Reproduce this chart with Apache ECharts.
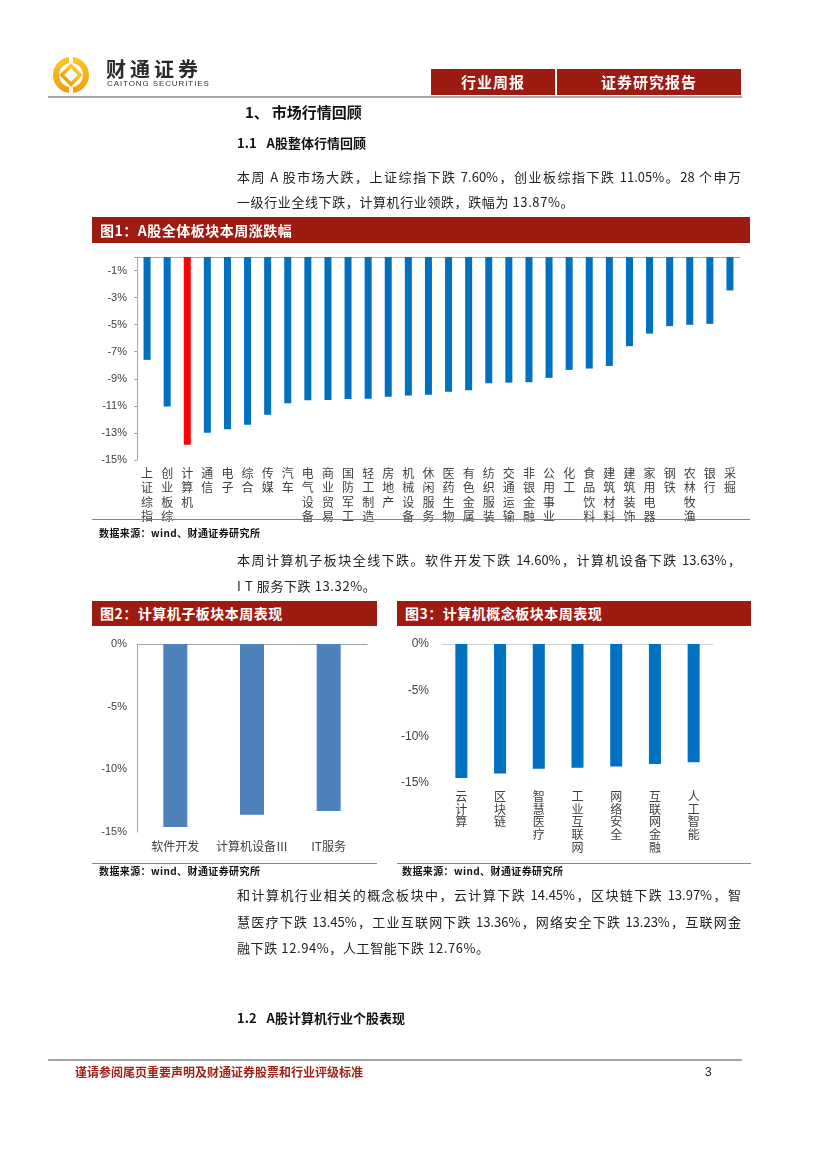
<!DOCTYPE html>
<html><head><meta charset="utf-8">
<script src="https://cdn.jsdelivr.net/npm/echarts@6/dist/echarts.min.js"></script>
<style>
html,body{margin:0;padding:0;background:#fff;}
#page{position:relative;width:827px;height:1169px;overflow:hidden;font-family:"Noto Sans CJK SC","Liberation Sans",sans-serif;color:#222;background:#fff;}
#chart{position:absolute;left:0;top:0;width:827px;height:1169px;}
.t{position:absolute;white-space:nowrap;line-height:20px;}
.p{font-size:13px;color:#222;}
.jl{text-align:justify;text-align-last:justify;width:504px;}
.h{font-weight:700;color:#111;}
.rule{position:absolute;}
.bar{position:absolute;background:#9e1b12;color:#fff;font-weight:700;font-size:14px;letter-spacing:0.5px;box-sizing:border-box;padding-left:8px;}
.src{font-size:10px;font-weight:700;color:#111;letter-spacing:0.4px;}
.hbox{position:absolute;background:#9e1b12;color:#fff;font-weight:700;font-size:15px;text-align:center;line-height:26px;height:26px;top:69px;letter-spacing:1px;}
.gap{display:inline-block;}
</style>
</head><body>
<div id="page">
<div id="chart"></div>

<!-- header -->
<svg style="position:absolute;left:52px;top:55px" width="40" height="40" viewBox="0 0 40 40">
  <defs><linearGradient id="g" x1="0" y1="0" x2="0" y2="1"><stop offset="0" stop-color="#f9c623"/><stop offset="1" stop-color="#f0a011"/></linearGradient></defs>
  <circle cx="19" cy="20" r="15" fill="none" stroke="url(#g)" stroke-width="6"/>
  <rect x="12.5" y="13.5" width="13" height="13" transform="rotate(45 19 20)" fill="none" stroke="url(#g)" stroke-width="3.5"/>
  <rect x="17" y="2" width="4" height="6" fill="#fff"/><rect x="17" y="32" width="4" height="6" fill="#fff"/>
</svg>
<div class="t" style="left:106px;top:58px;font-size:20px;font-weight:700;letter-spacing:4px;color:#2a2a2a;line-height:22px;">财通证券</div>
<div class="t" style="left:107px;top:79px;font-size:8px;letter-spacing:0.9px;color:#333;line-height:10px;font-family:'Liberation Sans',sans-serif;">CAITONG SECURITIES</div>
<div class="hbox" style="left:431px;width:124px;">行业周报</div>
<div class="hbox" style="left:557px;width:184px;">证券研究报告</div>
<div class="rule" style="left:48px;top:96px;width:694px;height:2px;background:#a5a5a5;"></div>

<div class="t h" style="left:245px;top:102px;font-size:15px;">1、<span class="gap" style="width:3px"></span>市场行情回顾</div>
<div class="t h" style="left:237px;top:133px;font-size:13px;">1.1<span class="gap" style="width:10px"></span>A股整体行情回顾</div>
<div class="t p jl" style="left:237px;top:167px;">本周 A 股市场大跌，上证综指下跌 7.60%，创业板综指下跌 11.05%。28 个申万</div>
<div class="t p" style="left:237px;top:192px;letter-spacing:0.6px;">一级行业全线下跌，计算机行业领跌，跌幅为 13.87%。</div>

<div class="bar" style="left:92px;top:217px;width:658px;height:26px;line-height:26px;">图1：A股全体板块本周涨跌幅</div>
<div class="rule" style="left:92px;top:519px;width:658px;height:1px;background:#b9706a;"></div>
<div class="t src" style="left:99px;top:523px;">数据来源：wind、财通证券研究所</div>

<div class="t p jl" style="left:237px;top:550px;">本周计算机子板块全线下跌。软件开发下跌 14.60%，计算机设备下跌 13.63%，</div>
<div class="t p" style="left:237px;top:576px;letter-spacing:0.6px;">I T 服务下跌 13.32%。</div>

<div class="bar" style="left:92px;top:601px;width:285px;height:25px;line-height:25px;">图2：计算机子板块本周表现</div>
<div class="bar" style="left:397px;top:601px;width:354px;height:25px;line-height:25px;">图3：计算机概念板块本周表现</div>
<div class="rule" style="left:92px;top:863px;width:285px;height:1px;background:#b9706a;"></div>
<div class="rule" style="left:397px;top:863px;width:354px;height:1px;background:#b9706a;"></div>
<div class="t src" style="left:99px;top:861px;">数据来源：wind、财通证券研究所</div>
<div class="t src" style="left:402px;top:861px;">数据来源：wind、财通证券研究所</div>

<div class="t p jl" style="left:237px;top:885px;">和计算机行业相关的概念板块中，云计算下跌 14.45%，区块链下跌 13.97%，智</div>
<div class="t p jl" style="left:237px;top:912px;">慧医疗下跌 13.45%，工业互联网下跌 13.36%，网络安全下跌 13.23%，互联网金</div>
<div class="t p" style="left:237px;top:938px;letter-spacing:0.6px;">融下跌 12.94%，人工智能下跌 12.76%。</div>

<div class="t h" style="left:237px;top:1008px;font-size:13px;">1.2<span class="gap" style="width:10px"></span>A股计算机行业个股表现</div>

<div class="rule" style="left:48px;top:1059px;width:694px;height:2px;background:#a5a5a5;"></div>
<div class="t" style="left:75px;top:1062px;font-size:12px;font-weight:700;color:#a0231a;">谨请参阅尾页重要声明及财通证券股票和行业评级标准</div>
<div class="t" style="left:705px;top:1062px;font-size:12px;color:#222;font-family:'Liberation Sans',sans-serif;">3</div>
</div>

<script>
// ---- data ----
const sectorNames = ['上证综指','创业板综','计算机','通信','电子','综合','传媒','汽车','电气设备','商业贸易','国防军工','轻工制造','房地产','机械设备','休闲服务','医药生物','有色金属','纺织服装','交通运输','非银金融','公用事业','化工','食品饮料','建筑材料','建筑装饰','家用电器','钢铁','农林牧渔','银行','采掘'];
const sectorChange = [-7.60,-11.05,-13.87,-12.98,-12.73,-12.39,-11.65,-10.81,-10.59,-10.57,-10.49,-10.47,-10.32,-10.23,-10.17,-9.95,-9.85,-9.33,-9.28,-9.25,-8.93,-8.34,-8.24,-8.05,-6.59,-5.66,-5.11,-5.01,-4.94,-2.47];
const highlightSector = '计算机';
const subNames = ['软件开发','计算机设备Ⅲ','IT服务'];
const subChange = [-14.60,-13.63,-13.32];
const conceptNames = ['云计算','区块链','智慧医疗','工业互联网','网络安全','互联网金融','人工智能'];
const conceptChange = [-14.45,-13.97,-13.45,-13.36,-13.23,-12.94,-12.76];

// ---- chart ----
const chart = echarts.init(document.getElementById('chart'), null, {renderer:'canvas'});
const axGray = '#a6a6a6';
const txt = '#404040';
const num = {fontFamily:'Liberation Sans, Arial, sans-serif', fontSize:11, color:txt};
const cjk = 'Noto Sans CJK SC';
const vert = s => s.split('').join('\n');
const pct = v => (v === 0 ? '0%' : v + '%');

const option = {
  animation:false,
  grid:[
    {left:137, top:257, width:603, height:203},
    {left:137, top:644, width:230, height:188},
    {left:442, top:644, width:271, height:139}
  ],
  xAxis:[
    {gridIndex:0, type:'category', data:sectorNames, position:'top',
     axisLine:{lineStyle:{color:axGray}}, axisTick:{length:4, lineStyle:{color:axGray}}, axisLabel:{show:false}},
    {gridIndex:0, type:'category', data:sectorNames, position:'bottom',
     axisLine:{show:false, onZero:false}, axisTick:{show:false},
     axisLabel:{interval:0, formatter:vert, fontSize:12, lineHeight:14.5, color:txt, margin:6, fontFamily:cjk}},
    {gridIndex:1, type:'category', data:subNames, position:'top',
     axisLine:{lineStyle:{color:axGray}}, axisTick:{length:4, lineStyle:{color:axGray}}, axisLabel:{show:false}},
    {gridIndex:1, type:'category', data:subNames, position:'bottom',
     axisLine:{show:false, onZero:false}, axisTick:{show:false},
     axisLabel:{interval:0, fontSize:12, color:txt, margin:8, fontFamily:cjk}},
    {gridIndex:2, type:'category', data:conceptNames, position:'top',
     axisLine:{lineStyle:{color:'#d0d0d0'}}, axisTick:{length:4, lineStyle:{color:'#d0d0d0'}}, axisLabel:{show:false}},
    {gridIndex:2, type:'category', data:conceptNames, position:'bottom',
     axisLine:{show:false, onZero:false}, axisTick:{show:false},
     axisLabel:{interval:0, formatter:vert, fontSize:12, lineHeight:12.7, color:txt, margin:7, fontFamily:cjk}}
  ],
  yAxis:[
    {gridIndex:0, type:'value', min:-15, max:0, interval:2,
     axisLine:{show:true, lineStyle:{color:axGray}}, axisTick:{show:true, length:3, lineStyle:{color:axGray}},
     splitLine:{show:false},
     axisLabel:Object.assign({margin:10, formatter:v => (v === 0 ? '' : v + '%')}, num)},
    {gridIndex:1, type:'value', min:-15, max:0, interval:5,
     axisLine:{show:true, lineStyle:{color:axGray}}, axisTick:{show:false},
     splitLine:{show:false},
     axisLabel:Object.assign({margin:10, formatter:pct}, num)},
    {gridIndex:2, type:'value', min:-15, max:0, interval:5,
     axisLine:{show:false}, axisTick:{show:false},
     splitLine:{show:false},
     axisLabel:Object.assign({margin:13, formatter:pct}, num, {fontSize:12})}
  ],
  series:[
    {type:'bar', xAxisIndex:0, yAxisIndex:0, barWidth:7,
     data:sectorChange.map((v,i) => ({value:v, itemStyle:{color: sectorNames[i] === highlightSector ? '#ff0000' : '#0070c0'}}))},
    {type:'bar', xAxisIndex:2, yAxisIndex:1, barWidth:24, data:subChange, itemStyle:{color:'#4f81bd'}},
    {type:'bar', xAxisIndex:4, yAxisIndex:2, barWidth:12, data:conceptChange, itemStyle:{color:'#0070c0'}}
  ]
};
chart.setOption(option);
</script>
</body></html>
